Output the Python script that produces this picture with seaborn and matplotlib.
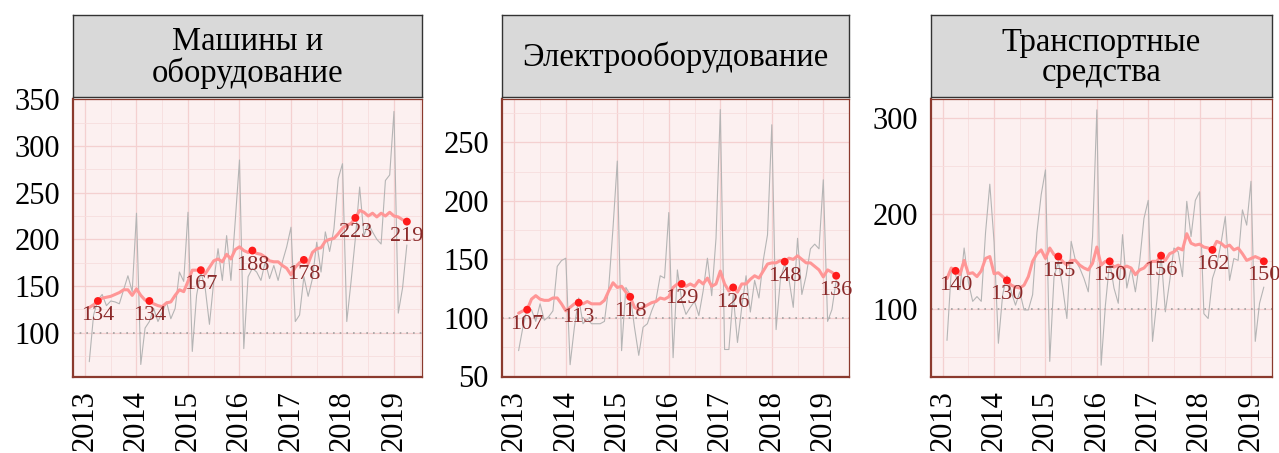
import matplotlib
matplotlib.use("Agg")
import matplotlib.pyplot as plt
import seaborn as sns
import pandas as pd
from matplotlib.ticker import MultipleLocator

# facet titles
panels = ["Машины и\nоборудование", "Электрооборудование", "Транспортные\nсредства"]

# monthly index, Jan 2013 .. Mar 2019 (grey line)
machines_monthly = [69, 119, 135, 141, 129, 134, 133, 131, 146, 161, 144, 228,
                    66, 105, 112, 126, 112, 122, 133, 115, 126, 165, 155, 229,
                    80, 140, 165, 148, 109, 155, 190, 156, 204, 156, 219, 285,
                    83, 160, 169, 165, 156, 176, 158, 172, 156, 176, 192, 213,
                    112, 119, 160, 139, 158, 197, 165, 208, 187, 211, 265, 281,
                    112, 155, 201, 256, 204, 217, 208, 200, 195, 263, 269, 337,
                    121, 148, 194]
electro_monthly = [72, 92, 108, 107, 97, 112, 98, 101, 106, 144, 149, 151,
                   60, 92, 117, 95, 99, 95, 95, 95, 97, 126, 177, 234,
                   72, 126, 120, 92, 68, 92, 95, 106, 115, 136, 134, 190,
                   66, 141, 115, 103, 109, 114, 102, 123, 151, 119, 168, 278,
                   73, 73, 120, 79, 109, 136, 105, 132, 117, 149, 171, 265,
                   90, 133, 146, 133, 109, 168, 120, 136, 159, 163, 159, 218,
                   97, 107, 132]
transport_monthly = [67, 140, 136, 120, 164, 128, 108, 113, 108, 180, 231, 170,
                     64, 115, 135, 118, 104, 118, 99, 99, 115, 180, 220, 246,
                     45, 134, 150, 123, 90, 171, 151, 143, 132, 118, 176, 309,
                     41, 104, 150, 122, 106, 178, 122, 143, 118, 150, 195, 214,
                     66, 108, 157, 97, 129, 164, 160, 134, 213, 176, 214, 223,
                     95, 90, 132, 146, 169, 197, 130, 153, 151, 204, 188, 234,
                     66, 106, 123]

# smoothed series (pink line)
machines_trend = [127, 130, 134, 137, 138, 139, 141, 143, 146, 146, 140, 147,
                  140, 135, 134, 131, 129, 128, 132, 133, 140, 146, 144, 155,
                  167, 167, 167, 163, 170, 177, 179, 176, 184, 179, 189, 192,
                  188, 186, 188, 185, 184, 181, 177, 176, 176, 172, 169, 162,
                  170, 175, 178, 174, 186, 190, 191, 198, 200, 201, 206, 212,
                  215, 217, 223, 231, 229, 225, 228, 224, 228, 225, 229, 225,
                  224, 221, 219]
electro_trend = [104, 106, 107, 116, 119, 116, 115, 115, 117, 117, 112, 106,
                 109, 112, 113, 112, 114, 112, 112, 112, 115, 123, 130, 126,
                 127, 122, 118, 109, 107, 109, 111, 113, 114, 117, 116, 118,
                 126, 129, 129, 127, 129, 127, 132, 129, 134, 127, 129, 140,
                 129, 123, 126, 122, 129, 129, 133, 136, 134, 140, 146, 147,
                 147, 149, 148, 151, 150, 153, 150, 147, 147, 144, 141, 135,
                 141, 139, 136]
transport_trend = [132, 143, 140, 136, 151, 137, 138, 134, 140, 153, 155, 137,
                   138, 134, 130, 125, 123, 122, 125, 134, 150, 158, 162, 153,
                   164, 157, 155, 150, 146, 151, 151, 146, 143, 141, 148, 165,
                   146, 150, 150, 144, 146, 143, 145, 143, 136, 141, 143, 148,
                   150, 150, 156, 151, 158, 160, 164, 162, 179, 169, 167, 168,
                   165, 164, 162, 171, 169, 165, 167, 162, 164, 158, 151, 153,
                   155, 153, 150]

# March values, labelled points
years = [2013, 2014, 2015, 2016, 2017, 2018, 2019]
machines_march = [134, 134, 167, 188, 178, 223, 219]
electro_march = [107, 113, 118, 129, 126, 148, 136]
transport_march = [140, 130, 155, 150, 156, 162, 150]

monthly = [machines_monthly, electro_monthly, transport_monthly]
trend = [machines_trend, electro_trend, transport_trend]
march = [machines_march, electro_march, transport_march]

x_month = [y + m / 12 for y in years for m in range(1, 13)][:75]
x_march = [y + 3 / 12 for y in years]

sns.set_theme(style="white")
plt.rcParams["font.family"] = ["Liberation Serif", "DejaVu Serif"]
plt.rcParams["text.color"] = "black"

W, H = 1279, 453
fig = plt.figure(figsize=(W / 100, H / 100), dpi=100)
fig.patch.set_facecolor("white")

brown = "#8B3A2E"

def px_axes(l, t, r, b):
    return fig.add_axes([l / W, 1 - b / H, (r - l) / W, (b - t) / H])

boxes = [(73, 99, 422, 377), (502, 99, 849, 377), (931, 99, 1272, 377)]
xlims = [(2012.767, 2019.544), (2012.761, 2019.499), (2012.772, 2019.409)]
ylims = [(52.6, 350.3), (49.5, 287.0), (28.6, 320.4)]
ymajor = [50, 50, 100]

for i in range(3):
    l, t, r, b = boxes[i]
    ax = px_axes(l, t, r, b)
    ax.set_facecolor("#FCF0F0")
    df = pd.DataFrame({"x": x_month, "monthly": monthly[i], "trend": trend[i]})
    pts = pd.DataFrame({"x": x_march, "v": march[i]})

    ax.axhline(100, color="#A0A0A0", lw=1.2, ls=(0, (1, 3)), zorder=2)
    sns.lineplot(data=df, x="x", y="monthly", ax=ax, color="#B5B5B5",
                 lw=0.8, estimator=None, zorder=3)
    sns.lineplot(data=df, x="x", y="trend", ax=ax, color="#FF9696",
                 lw=2.2, estimator=None, zorder=4)
    sns.scatterplot(data=pts, x="x", y="v", ax=ax, color="#FF1A1A", s=32,
                    edgecolor="none", zorder=5)
    for xv, yv in zip(x_march, march[i]):
        ax.annotate(str(yv), (xv, yv), xytext=(0, -10.5), textcoords="offset points",
                    ha="center", va="center", fontsize=16, color="#8B2A2A", zorder=6)

    ax.set_xlim(*xlims[i])
    ax.set_ylim(*ylims[i])
    ax.xaxis.set_major_locator(MultipleLocator(1))
    ax.xaxis.set_minor_locator(MultipleLocator(0.5))
    ax.yaxis.set_major_locator(MultipleLocator(ymajor[i]))
    ax.yaxis.set_minor_locator(MultipleLocator(ymajor[i] / 2))
    ax.grid(which="major", color="#F4D0D0", lw=0.9, zorder=0)
    ax.grid(which="minor", color="#F7DEDE", lw=0.6, zorder=0)
    ax.set_axisbelow(True)
    ax.set_xticks(years)
    ax.set_xticklabels([str(y) for y in years], rotation=90)
    ax.set_xlabel("")
    ax.set_ylabel("")
    ax.tick_params(axis="both", which="major", direction="out", length=5.5, width=1.6,
                   color=brown, labelsize=22, labelcolor="black", pad=4)
    ax.tick_params(which="minor", length=0)
    for side, sp in ax.spines.items():
        sp.set_visible(True)
        sp.set_color(brown)
        sp.set_linewidth(1.6 if side in ("left", "bottom") else 0.9)

    # facet strip
    sax = px_axes(l, 15, r, 97)
    sax.set_facecolor("#D9D9D9")
    sax.set_xticks([])
    sax.set_yticks([])
    for sp in sax.spines.values():
        sp.set_visible(True)
        sp.set_color("#333333")
        sp.set_linewidth(1.0)
    sax.text(0.5, 0.48, panels[i], ha="center", va="center", fontsize=23.5,
             linespacing=1.0, color="black", transform=sax.transAxes)

fig.savefig("out.png", dpi=100, facecolor="white")
